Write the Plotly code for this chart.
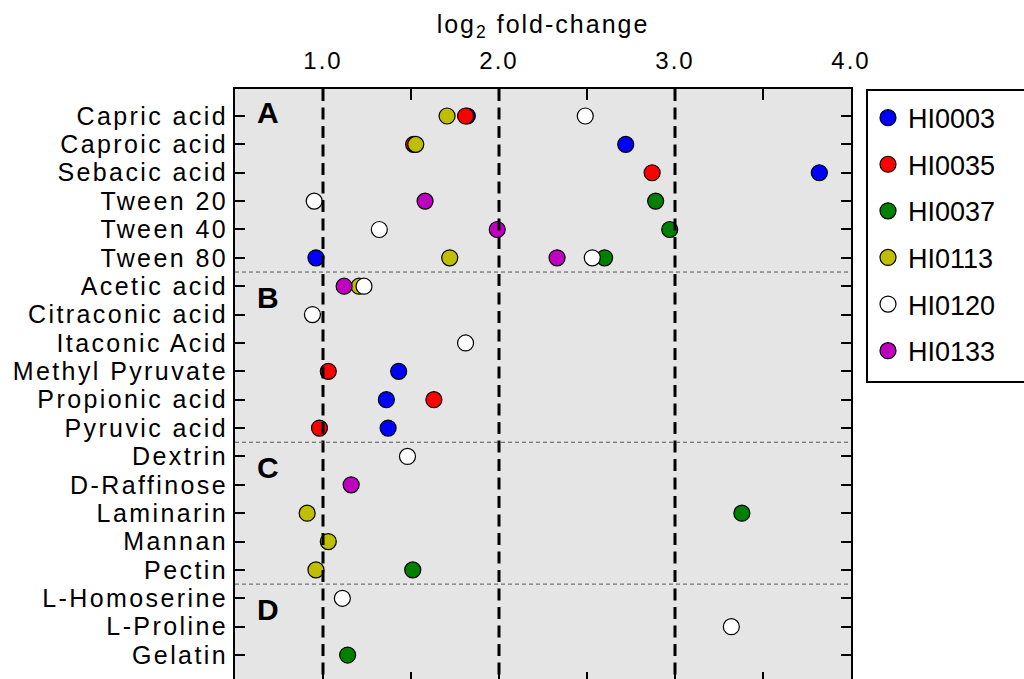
import plotly.graph_objects as go

categories = ["Capric acid", "Caproic acid", "Sebacic acid", "Tween 20", "Tween 40", "Tween 80",
              "Acetic acid", "Citraconic acid", "Itaconic Acid", "Methyl Pyruvate", "Propionic acid",
              "Pyruvic acid", "Dextrin", "D-Raffinose", "Laminarin", "Mannan", "Pectin",
              "L-Homoserine", "L-Proline", "Gelatin"]

strains = ["HI0003", "HI0035", "HI0037", "HI0113", "HI0120", "HI0133"]
colors = ["#0000FF", "#FF0000", "#008000", "#BFBF00", "#FFFFFF", "#BF00BF"]

hi0003_cats = ["Capric acid", "Caproic acid", "Sebacic acid", "Tween 80", "Methyl Pyruvate", "Propionic acid", "Pyruvic acid"]
hi0003_vals = [1.82, 2.72, 3.82, 0.96, 1.43, 1.36, 1.37]

hi0035_cats = ["Capric acid", "Caproic acid", "Sebacic acid", "Methyl Pyruvate", "Propionic acid", "Pyruvic acid"]
hi0035_vals = [1.81, 1.515, 2.87, 1.03, 1.63, 0.98]

hi0037_cats = ["Tween 20", "Tween 40", "Tween 80", "Laminarin", "Pectin", "Gelatin"]
hi0037_vals = [2.89, 2.97, 2.60, 3.38, 1.51, 1.14]

hi0113_cats = ["Capric acid", "Caproic acid", "Tween 80", "Acetic acid", "Laminarin", "Mannan", "Pectin"]
hi0113_vals = [1.705, 1.527, 1.72, 1.205, 0.91, 1.03, 0.96]

hi0120_cats = ["Capric acid", "Tween 20", "Tween 40", "Tween 80", "Acetic acid", "Citraconic acid",
               "Itaconic Acid", "Dextrin", "L-Homoserine", "L-Proline"]
hi0120_vals = [2.49, 0.95, 1.32, 2.53, 1.233, 0.94, 1.81, 1.48, 1.11, 3.32]

hi0133_cats = ["Tween 20", "Tween 40", "Tween 80", "Acetic acid", "D-Raffinose"]
hi0133_vals = [1.58, 1.99, 2.33, 1.12, 1.16]

group_labels = ["A", "B", "C", "D"]
group_sizes = [6, 6, 5, 3]
label_offsets = [-0.14, 0.38, 0.38, 0.38]

ref_lines = [1.0, 2.0, 3.0]
x_range = [0.5, 4.0]
x_ticks = [1.0, 2.0, 3.0, 4.0]

series_cats = [hi0003_cats, hi0035_cats, hi0037_cats, hi0113_cats, hi0120_cats, hi0133_cats]
series_vals = [hi0003_vals, hi0035_vals, hi0037_vals, hi0113_vals, hi0120_vals, hi0133_vals]

FONT = "Liberation Sans, Arial, sans-serif"
W, H = 1024, 679
ML, MR, MT, MB = 235, 1024 - 851, 89, 0
row_px = 28.37
plot_h = H - MT - MB
y_top = -(116 - MT) / row_px
y_bot = y_top + plot_h / row_px

fig = go.Figure()
for name, col, cats, vals in zip(strains, colors, series_cats, series_vals):
    fig.add_trace(go.Scatter(
        x=vals, y=cats, mode="markers", name=name, legendgroup=name,
        marker=dict(size=16, color=col, line=dict(color="black", width=1.2)),
    ))

# invisible trace to host the bottom tick axis
fig.add_trace(go.Scatter(x=[None], y=[None], xaxis="x2", showlegend=False, hoverinfo="skip"))

shapes = []
for v in ref_lines:
    shapes.append(dict(type="line", xref="x", yref="paper", x0=v, x1=v, y0=1, y1=0,
                       line=dict(color="black", width=3, dash="12px,6.5px"), layer="above"))
start = 0
annotations = []
for lab, size, off in zip(group_labels, group_sizes, label_offsets):
    if start > 0:
        shapes.append(dict(type="line", xref="paper", yref="y", x0=0, x1=1,
                           y0=start - 0.5, y1=start - 0.5,
                           line=dict(color="#555555", width=1, dash="4px,3px"), layer="above"))
    annotations.append(dict(text=lab, xref="paper", yref="y", x=(268 - ML) / (W - ML - MR),
                            y=start + off, showarrow=False, xanchor="center", yanchor="middle",
                            font=dict(family=FONT, size=30, color="black", weight="bold")))
    start += size

fig.update_layout(
    width=W, height=H,
    margin=dict(l=ML, r=MR, t=MT, b=MB, pad=0),
    paper_bgcolor="white", plot_bgcolor="#E5E5E5",
    font=dict(family=FONT, size=25, color="black"),
    shapes=shapes, annotations=annotations,
    showlegend=True,
    legend=dict(x=(866 - ML) / (W - ML - MR), y=1.0, xanchor="left", yanchor="top",
                bordercolor="black", borderwidth=2, bgcolor="white",
                font=dict(family=FONT, size=27, color="black"),
                title=dict(text=" ", font=dict(size=2)),
                tracegroupgap=8.5, itemsizing="trace"),
    xaxis=dict(side="top", range=x_range, tickvals=x_ticks, tickformat=".1f",
               ticks="inside", ticklen=11, tickwidth=1.5, tickcolor="black",
               minor=dict(dtick=0.5, tick0=0, ticks="inside", ticklen=11, tickwidth=1.5, tickcolor="black"),
               showline=True, linewidth=2, linecolor="black", mirror=False,
               showgrid=False, zeroline=False, ticklabelstandoff=8,
               tickfont=dict(family=FONT, size=24, color="black"),
               title=dict(text="log<sub>2</sub> fold-change", font=dict(family=FONT, size=25), standoff=7)),
    xaxis2=dict(overlaying="x", side="bottom", range=x_range, tickvals=x_ticks,
                showticklabels=False, ticks="inside", ticklen=7, tickwidth=1.5, tickcolor="black",
                minor=dict(dtick=0.5, tick0=0, ticks="inside", ticklen=7, tickwidth=1.5, tickcolor="black"),
                showline=False, showgrid=False, zeroline=False),
    yaxis=dict(type="category", categoryorder="array", categoryarray=categories,
               tickmode="array", tickvals=categories, ticktext=categories,
               range=[y_bot, y_top], ticks="inside", ticklen=10, tickwidth=1.5, tickcolor="black",
               showline=True, linewidth=2, linecolor="black", mirror="ticks",
               showgrid=False, zeroline=False,
               tickfont=dict(family=FONT, size=25, color="black")),
)

post = ("var st=document.createElement('style');"
        "st.textContent='.js-plotly-plot .xtick text, .js-plotly-plot .g-xtitle text{letter-spacing:2px !important;}"
        ".js-plotly-plot .ytick text{letter-spacing:2.4px !important;}';"
        "document.head.appendChild(st);"
        "var gd=document.getElementById('{plot_id}');"
        "var lg=gd.querySelector('.legend');"
        "if(lg){lg.querySelectorAll('[clip-path]').forEach(function(e){e.removeAttribute('clip-path');});"
        "var bg=lg.querySelector('rect.bg');"
        "if(bg){bg.setAttribute('width','220');bg.setAttribute('height','292');}}")

fig.write_html("out.html", post_script=post)
